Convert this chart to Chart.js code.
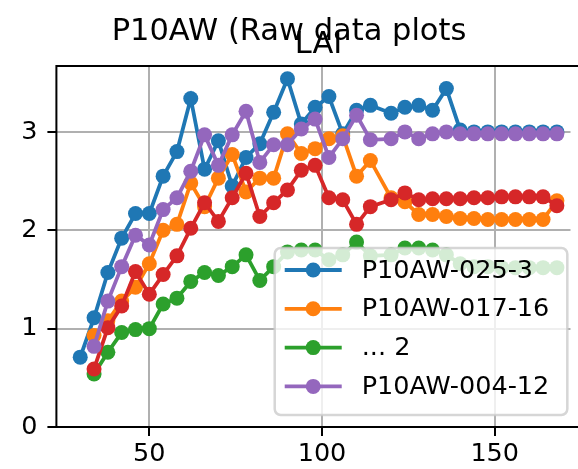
<!DOCTYPE html>
<html><head><meta charset="utf-8">
<script src="https://cdn.jsdelivr.net/npm/chart.js@4.4.1/dist/chart.umd.min.js"></script>
<style>
html,body{margin:0;padding:0;overflow:hidden;background:#fff;width:578px;height:469px}
#wrap{position:absolute;left:0;top:0;width:578px;height:469px;overflow:hidden}
</style>
</head><body><div id="wrap"><canvas id="c" width="578" height="469"></canvas></div>
<script>
// ---- data ----
const days = [30,34,38,42,46,50,54,58,62,66,70,74,78,82,86,90,94,98,102,106,110,114,120,124,128,132,136,140,144,148,152,156,160,164,168];
const blueVals   = [0.71,1.11,1.57,1.92,2.17,2.17,2.55,2.80,3.34,2.62,2.91,2.45,2.74,2.88,3.20,3.54,3.08,3.25,3.36,2.98,3.22,3.27,3.19,3.25,3.27,3.22,3.44,3.02,3.00,3.00,3.00,3.00,3.00,3.00,3.00];
const orangeVals = [null,0.93,1.08,1.28,1.42,1.66,2.00,2.06,2.48,2.24,2.53,2.77,2.39,2.53,2.53,2.98,2.78,2.83,2.93,2.96,2.55,2.71,2.33,2.29,2.16,2.16,2.14,2.12,2.12,2.11,2.11,2.11,2.11,2.11,2.30];
const greenVals  = [null,0.54,0.76,0.96,0.99,1.00,1.25,1.31,1.48,1.57,1.54,1.63,1.75,1.49,1.63,1.78,1.80,1.80,1.70,1.75,1.88,1.74,1.75,1.82,1.82,1.80,1.75,1.66,1.63,1.63,1.62,1.62,1.62,1.62,1.62];
const redVals    = [null,0.59,1.01,1.23,1.58,1.35,1.55,1.74,2.02,2.28,2.09,2.33,2.58,2.14,2.28,2.41,2.61,2.66,2.33,2.31,2.06,2.24,2.31,2.38,2.31,2.32,2.32,2.32,2.33,2.33,2.34,2.34,2.34,2.34,2.25];
const purpleVals = [null,0.82,1.28,1.63,1.95,1.85,2.21,2.33,2.60,2.97,2.66,2.97,3.21,2.69,2.87,2.87,3.03,3.13,2.74,2.93,3.17,2.92,2.93,3.00,2.93,2.98,3.00,2.98,2.98,2.98,2.98,2.98,2.98,2.98,2.98];
const seriesLabels = ['P10AW-025-3','P10AW-017-16','... 2',null,'P10AW-004-12'];
const xTicks = [50,100,150];
const yTicks = [0,1,2,3];
const suptitleText = 'P10AW (Raw data plots';
const axTitleText = 'LAI';

const colors = ['#1f77b4','#ff7f0e','#2ca02c','#d62728','#9467bd'];
const allVals = [blueVals,orangeVals,greenVals,redVals,purpleVals];
const FONT = "'DejaVu Sans', sans-serif";
const X_MIN = 23.1, X_MAX_FULL = 174.9;   // the reference axis range (right edge lies just past the window)
const PX_PER_UNIT = 3.454;                // horizontal scale of the reference plot

function pts(vals){ const out=[]; vals.forEach((v,i)=>{ if(v!==null) out.push({x:days[i],y:v}); }); return out; }

const datasets = allVals.map((vals,i)=>({
  label: seriesLabels[i] || '',
  data: pts(vals),
  borderColor: colors[i],
  backgroundColor: colors[i],
  pointBackgroundColor: colors[i],
  pointBorderWidth: 0,
  pointRadius: 7.5,
  borderWidth: 3.8,
  tension: 0,
  fill: false,
  clip: false,
  order: allVals.length - i
}));

function fullRight(chart){ return chart.scales.x.getPixelForValue(X_MAX_FULL); }

const framePlugin = {
  id:'frame',
  afterDatasetsDraw(chart){
    const {ctx, chartArea:a} = chart;
    const r = fullRight(chart);
    ctx.save();
    ctx.strokeStyle='#000'; ctx.lineWidth=2;
    ctx.beginPath();
    ctx.moveTo(r, a.top); ctx.lineTo(a.left, a.top); ctx.lineTo(a.left, a.bottom); ctx.lineTo(r, a.bottom);
    ctx.moveTo(r, a.top); ctx.lineTo(r, a.bottom);
    ctx.stroke();
    ctx.restore();
  }
};

const textPlugin = {
  id:'texts',
  afterDraw(chart){
    const {ctx, chartArea:a} = chart;
    ctx.save();
    ctx.fillStyle='#000';
    ctx.textAlign='center'; ctx.textBaseline='alphabetic';
    ctx.font = '30.5px '+FONT;
    ctx.fillText(suptitleText, chart.width/2, 40);
    ctx.fillText(axTitleText, (a.left+fullRight(chart))/2, a.top-13);
    ctx.restore();
  }
};

const legendPlugin = {
  id:'mplLegend',
  afterDraw(chart){
    const {ctx, chartArea:a} = chart;
    const w = 292.6, h = 167;
    const x0 = fullRight(chart) - 13.4 - w, y0 = a.bottom - 12 - h;
    ctx.save();
    ctx.globalAlpha = 0.8;
    ctx.fillStyle = '#fff';
    ctx.strokeStyle = '#cccccc';
    ctx.lineWidth = 2.5;
    const r = 6;
    ctx.beginPath();
    ctx.moveTo(x0+r,y0);
    ctx.arcTo(x0+w,y0,x0+w,y0+h,r);
    ctx.arcTo(x0+w,y0+h,x0,y0+h,r);
    ctx.arcTo(x0,y0+h,x0,y0,r);
    ctx.arcTo(x0,y0,x0+w,y0,r);
    ctx.closePath();
    ctx.fill(); ctx.stroke();
    ctx.globalAlpha = 1;
    let row = 0;
    chart.data.datasets.forEach((ds,i)=>{
      if(!seriesLabels[i]) return;
      const cy = y0 + 22 + row*38.8;
      ctx.strokeStyle = ds.borderColor; ctx.lineWidth = 3.8;
      ctx.beginPath(); ctx.moveTo(x0+10, cy); ctx.lineTo(x0+67, cy); ctx.stroke();
      ctx.fillStyle = ds.borderColor;
      ctx.beginPath(); ctx.arc(x0+38.5, cy, 7.5, 0, Math.PI*2); ctx.fill();
      ctx.fillStyle = '#000';
      ctx.font = '25.5px '+FONT;
      ctx.textAlign='left'; ctx.textBaseline='middle';
      ctx.fillText(seriesLabels[i], x0+87, cy+1);
      row++;
    });
    ctx.restore();
  }
};

const chart = new Chart(document.getElementById('c').getContext('2d'), {
  type:'line',
  data:{datasets},
  options:{
    responsive:false, animation:false, devicePixelRatio:1,
    layout:{padding:{left:0,right:0,top:66,bottom:0}},
    plugins:{legend:{display:false}, title:{display:false}, tooltip:{enabled:false}},
    scales:{
      x:{
        type:'linear', min:X_MIN, max:X_MAX_FULL,
        afterBuildTicks:s=>{ s.ticks = xTicks.map(v=>({value:v})); },
        afterFit:s=>{ s.height = 42; },
        grid:{color:'#b0b0b0', lineWidth:2, tickLength:9, tickColor:'#000', tickWidth:2},
        border:{display:false},
        ticks:{font:{family:FONT,size:25.5}, color:'#000', padding:3, maxRotation:0, autoSkip:false}
      },
      y:{
        type:'linear', min:0, max:3.67,
        afterBuildTicks:s=>{ s.ticks = yTicks.map(v=>({value:v})); },
        afterFit:s=>{ s.width = 56.4; },
        grid:{color:'#b0b0b0', lineWidth:2, tickLength:9, tickColor:'#000', tickWidth:2},
        border:{display:false},
        ticks:{font:{family:FONT,size:25.5}, color:'#000', padding:10}
      }
    }
  },
  plugins:[framePlugin, textPlugin, legendPlugin]
});
// The plot area is cut by the window's right edge: shorten the visible range so the
// horizontal scale keeps the reference's pixels-per-unit.
const a = chart.chartArea;
chart.options.scales.x.max = X_MIN + (a.right - a.left) / PX_PER_UNIT;
chart.update('none');
</script>
</body></html>
